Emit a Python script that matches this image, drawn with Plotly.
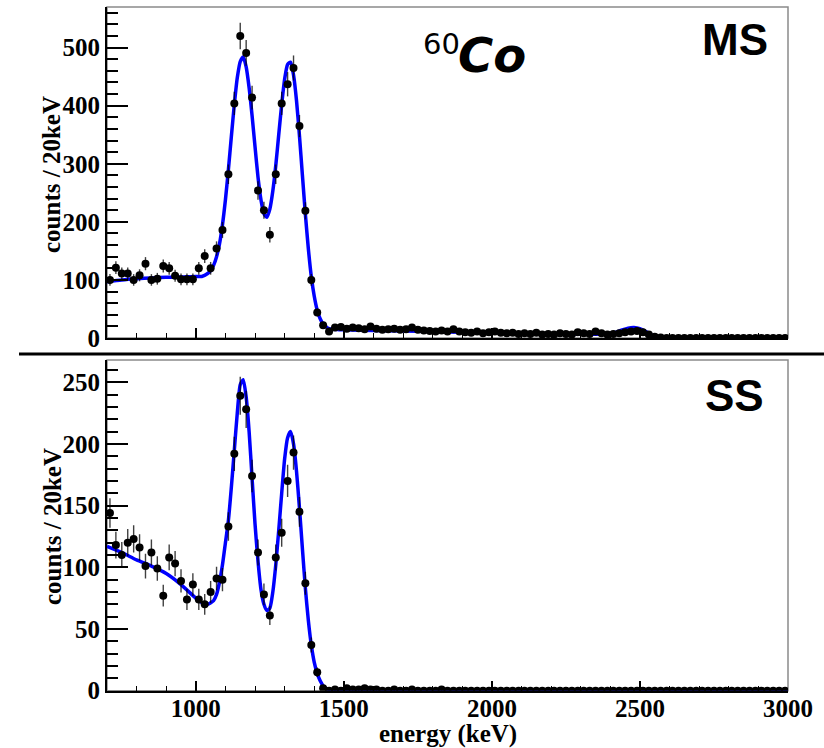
import numpy as np
import plotly.graph_objects as go

# ---------------- data ----------------
bin_centers = np.arange(710, 3000, 20)  # 20 keV bins, 710 ... 2990

ms_counts = [
    100, 121, 111, 111, 100, 108, 128, 100, 102, 124,
    120, 107, 101, 101, 101, 120, 141, 120, 154, 186,
    282, 404, 520, 491, 414, 254, 220, 178, 282, 404,
    437, 465, 365, 219, 100, 44, 22, 11,
    18, 19, 16, 18, 17, 15, 20, 16, 14, 15,
    16, 14, 15, 18, 14, 13, 12, 11, 13, 11,
    15, 11, 10, 9, 11, 8, 10, 11, 9, 8,
    9, 7, 8, 7, 9, 6, 7, 6, 8, 7,
    6, 10, 8, 7, 11, 8, 6, 7, 8, 10,
    11, 12, 10, 6, 2, 1,
    0, 0, 0, 0, 0, 0, 0, 0, 0, 0,
    0, 0, 0, 0, 0, 0, 0, 0, 0, 0, 0,
]

ss_counts = [
    144, 118, 110, 120, 123, 116, 101, 112, 99, 77,
    108, 103, 89, 74, 86, 74, 70, 80, 91, 90,
    133, 192, 239, 228, 174, 112, 78, 61, 108, 128,
    170, 193, 145, 87, 37, 15, 2, 0,
    1, 0, 2, 1, 1, 2, 1, 1, 0, 0,
    1, 0, 0, 1, 0, 0, 0, 0, 1, 0,
    0, 0, 0, 0, 0, 0, 0, 0, 0, 0,
    0, 0, 0, 0, 0, 0, 0, 0, 0, 0,
    0, 0, 0, 0, 0, 0, 0, 0, 0, 0,
    0, 0, 0, 0, 0, 0,
    0, 0, 0, 0, 0, 0, 0, 0, 0, 0,
    0, 0, 0, 0, 0, 0, 0, 0, 0, 0, 0,
]

ms_fit_E = [700, 750, 800, 850, 900, 950, 1000, 1020, 1040, 1050, 1060, 1070, 1080,
            1090, 1100, 1110, 1120, 1130, 1140, 1150, 1160, 1170, 1180, 1190, 1200,
            1210, 1220, 1230, 1240, 1250, 1260, 1270, 1280, 1290, 1300, 1310, 1320,
            1330, 1340, 1350, 1360, 1370, 1380, 1390, 1400, 1410, 1420, 1430, 1440,
            1450, 1460, 1480, 1500, 1600, 1700, 1800, 1900, 2000, 2100, 2200, 2300,
            2380, 2420, 2440, 2460, 2480, 2500, 2520, 2540, 2560, 2580, 2600, 2700,
            2800, 2900, 3000]
ms_fit_y = [97, 100, 102, 103.5, 104.5, 105, 106, 106, 111, 116, 125, 140, 162,
            195, 238, 290, 347, 402, 448, 476, 484, 467, 431, 383, 329,
            277, 238, 214, 208, 222, 253, 297, 350, 402, 446, 471, 475,
            453, 409, 348, 280, 213, 154, 106, 72, 48, 33, 24, 19,
            16, 15, 14.5, 14, 13, 12, 11, 10, 9, 8, 7, 6.5,
            7, 10, 14, 17, 18, 16, 11, 5, 1.5, 0, 0, 0,
            0, 0, 0]

ss_fit_E = [700, 750, 800, 850, 900, 950, 1000, 1020, 1040, 1060, 1070, 1080, 1090,
            1100, 1110, 1120, 1130, 1140, 1150, 1160, 1170, 1180, 1190, 1200, 1210,
            1220, 1230, 1240, 1250, 1260, 1270, 1280, 1290, 1300, 1310, 1320, 1330,
            1340, 1350, 1360, 1370, 1380, 1390, 1400, 1410, 1420, 1430, 1440, 1460,
            1480, 2000, 2500, 3000]
ss_fit_y = [117, 112, 106, 101, 95, 86, 75, 71.5, 70, 73, 78, 88, 102,
            120, 138, 165, 195, 225, 248, 252, 238, 210, 172, 135, 105,
            82, 70, 65, 67, 80, 102, 130, 160, 188, 205, 210, 200,
            178, 148, 115, 83, 57, 37, 23, 14, 8, 4, 2, 0.5,
            0, 0, 0, 0]

x_tick_vals = [1000, 1500, 2000, 2500, 3000]
x_tick_text = ["1000", "1500", "2000", "2500", "3000"]
ms_y_ticks = [0, 100, 200, 300, 400, 500]
ss_y_ticks = [0, 50, 100, 150, 200, 250]

# ---------------- geometry ----------------
W, H = 824, 748
xd = [107 / W, 788 / W]
yd_top = [1 - 338 / H, 1 - 7 / H]
yd_bot = [1 - 690.7 / H, 1 - 360 / H]

BLUE = "rgb(0,0,255)"
tick_font = dict(family="Liberation Serif", size=25, color="black", weight="bold")

fig = go.Figure()

# fits
fig.add_trace(go.Scatter(x=ms_fit_E, y=ms_fit_y, mode="lines",
                         line=dict(color=BLUE, width=3.5, shape="spline", smoothing=0.6),
                         xaxis="x", yaxis="y", showlegend=False, hoverinfo="skip"))
fig.add_trace(go.Scatter(x=ss_fit_E, y=ss_fit_y, mode="lines",
                         line=dict(color=BLUE, width=3.5, shape="spline", smoothing=0.6),
                         xaxis="x2", yaxis="y2", showlegend=False, hoverinfo="skip"))

# data points
for counts, xa, ya in [(ms_counts, "x", "y"), (ss_counts, "x2", "y2")]:
    c = np.array(counts, dtype=float)
    fig.add_trace(go.Scatter(
        x=bin_centers, y=c, mode="markers",
        marker=dict(color="black", size=8, line=dict(width=0)),
        error_y=dict(type="data", array=np.sqrt(c), color="rgba(0,0,0,0.75)",
                     thickness=1.4, width=0),
        xaxis=xa, yaxis=ya, showlegend=False))

common_x = dict(range=[700, 3000], domain=xd, showgrid=False, zeroline=False,
                showline=True, linecolor="black", linewidth=2,
                ticks="inside", tickmode="array", tickvals=x_tick_vals,
                ticktext=x_tick_text, ticklen=10, tickwidth=1.5, tickcolor="black",
                minor=dict(ticks="inside", tick0=700, dtick=100, ticklen=5,
                           tickwidth=1.2, tickcolor="black"),
                tickfont=tick_font, automargin=False)

common_y = dict(showgrid=False, zeroline=False, showline=True, linecolor="black",
                linewidth=2, ticks="inside", tickmode="array", ticklen=21,
                tickwidth=2, tickcolor="black", tickfont=tick_font, automargin=False)

fig.update_layout(
    width=W, height=H,
    margin=dict(l=0, r=0, t=0, b=0),
    paper_bgcolor="white", plot_bgcolor="white",
    xaxis=dict(**common_x, anchor="y", showticklabels=False),
    yaxis=dict(**common_y, domain=yd_top, range=[0, 570], anchor="x",
               tickvals=ms_y_ticks, ticktext=[str(v) for v in ms_y_ticks],
               minor=dict(ticks="inside", tick0=0, dtick=20, ticklen=11,
                          tickwidth=1.5, tickcolor="black")),
    xaxis2=dict(**common_x, anchor="y2", showticklabels=True, ticklabelstandoff=-6),
    yaxis2=dict(**common_y, domain=yd_bot, range=[0, 268], anchor="x2",
                tickvals=ss_y_ticks, ticktext=[str(v) for v in ss_y_ticks],
                minor=dict(ticks="inside", tick0=0, dtick=10, ticklen=11,
                           tickwidth=1.5, tickcolor="black")),
)

# frames (grey top/right)
for xr, yr in [("x domain", "y domain"), ("x2 domain", "y2 domain")]:
    fig.add_shape(type="rect", xref=xr, yref=yr, x0=0, x1=1, y0=0, y1=1,
                  line=dict(color="#8a8a8a", width=1.5), layer="below")

# separator line
fig.add_shape(type="line", xref="paper", yref="paper", x0=19 / W, x1=1,
              y0=1 - 354 / H, y1=1 - 354 / H, line=dict(color="black", width=3))

title_font = dict(family="Liberation Serif", size=25, color="black", weight="bold")
ann = [
    dict(text="counts / 20keV", x=52 / W, y=1 - 175 / H, textangle=-90,
         font=title_font),
    dict(text="counts / 20keV", x=52 / W, y=1 - 527 / H, textangle=-90,
         font=title_font),
    dict(text="energy (keV)", x=447.5 / W, y=1 - 734 / H,
         font=dict(family="Liberation Serif", size=25, color="black", weight="bold")),
    dict(text="MS", x=735 / W, y=1 - 40 / H,
         font=dict(family="Liberation Sans", size=44, color="black", weight="bold")),
    dict(text="SS", x=734 / W, y=1 - 395 / H,
         font=dict(family="Liberation Sans", size=44, color="black", weight="bold")),
    dict(text="60", x=441 / W, y=1 - 44 / H,
         font=dict(family="DejaVu Sans", size=29, color="black")),
    dict(text="Co", x=492 / W, y=1 - 55 / H,
         font=dict(family="DejaVu Sans", size=48, color="black", weight="bold",
                   style="italic")),
]
for a in ann:
    fig.add_annotation(xref="paper", yref="paper", showarrow=False,
                       xanchor="center", yanchor="middle", **a)

fig.write_html("out.html")
